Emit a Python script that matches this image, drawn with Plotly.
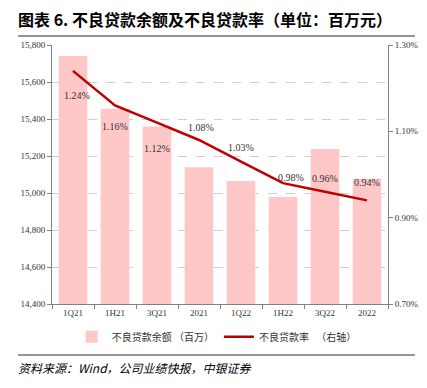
import plotly.graph_objects as go

categories = ["1Q21", "1H21", "3Q21", "2021", "1Q22", "1H22", "3Q22", "2022"]
npl_balance = [15740, 15456, 15360, 15139, 15065, 14978, 15238, 15077]
npl_ratio = [0.0124, 0.0116, 0.0112, 0.0108, 0.0103, 0.0098, 0.0096, 0.0094]
ratio_labels = ["1.24%", "1.16%", "1.12%", "1.08%", "1.03%", "0.98%", "0.96%", "0.94%"]
label_shift = [-25, -21, -26, 12, 14, 6, 13, 18]
label_xshift = [4, 0, 0, 2, 0, 8, 0, 0]

serif = "Liberation Serif, Times New Roman, serif"
cjk = "Noto Sans CJK SC, sans-serif"

fig = go.Figure()
fig.add_trace(go.Bar(
    x=categories, y=npl_balance, name="不良贷款余额 （百万）",
    marker=dict(color="#FFC7C7", line=dict(width=0)), width=0.68,
))
fig.add_trace(go.Scatter(
    x=categories, y=npl_ratio, name="不良贷款率 　（右轴）", yaxis="y2",
    mode="lines", line=dict(color="#C00000", width=2.5),
))
for i, (v, t, s, xs) in enumerate(zip(npl_ratio, ratio_labels, label_shift, label_xshift)):
    fig.add_annotation(
        x=i, y=v, xref="x", yref="y2", text=t, showarrow=False,
        yshift=s, xshift=xs, font=dict(family=serif, size=10, color="#333333"),
    )

fig.update_layout(
    width=427, height=388, autosize=False,
    margin=dict(l=52, r=39, t=45, b=84, autoexpand=False),
    plot_bgcolor="white", paper_bgcolor="white",
    font=dict(family=serif, size=9, color="#333333"),
    xaxis=dict(
        type="category", categoryorder="array", categoryarray=categories,
        range=[-0.5, len(categories) - 0.5],
        showline=True, linecolor="#808080", linewidth=1, automargin=False,
        ticks="outside", tickson="boundaries", ticklen=4, tickcolor="#808080",
        tickfont=dict(family=serif, size=9, color="#333333"),
        showgrid=False,
    ),
    yaxis=dict(
        range=[14400, 15800], dtick=200, tickformat=",", automargin=False,
        showline=True, linecolor="#808080", linewidth=1,
        ticks="outside", ticklen=4, tickcolor="#808080",
        showgrid=True, gridcolor="#D0D0D0", griddash="dash", gridwidth=1,
        zeroline=False,
        tickfont=dict(family=serif, size=9, color="#333333"),
    ),
    yaxis2=dict(
        range=[0.007, 0.013], tick0=0.007, dtick=0.002, tickformat=".2%",
        overlaying="y", side="right", automargin=False,
        showline=True, linecolor="#808080", linewidth=1,
        ticks="outside", ticklen=4, tickcolor="#808080",
        showgrid=False, zeroline=False,
        tickfont=dict(family=serif, size=9, color="#333333"),
    ),
    legend=dict(
        orientation="h", x=0.49, xanchor="center", y=-0.07, yanchor="top",
        font=dict(family=cjk, size=10, color="#333333"),
    ),
    showlegend=True,
)

fig.add_annotation(
    text="<b>图表 6. 不良贷款余额及不良贷款率（单位：百万元）</b>",
    xref="paper", yref="paper", x=-0.107, y=1.045, xanchor="left", yanchor="bottom",
    showarrow=False, font=dict(family=cjk, size=16, color="#000000"),
)
fig.add_annotation(
    text="<i>资料来源：Wind，公司业绩快报，中银证券</i>",
    xref="paper", yref="paper", x=-0.107, y=-0.205, xanchor="left", yanchor="top",
    showarrow=False, font=dict(family=cjk, size=12, color="#000000"),
)
fig.add_shape(type="line", xref="paper", yref="paper", x0=-0.101, x1=1.08, y0=1.035, y1=1.035,
              line=dict(color="#707070", width=1.5))
fig.add_shape(type="line", xref="paper", yref="paper", x0=-0.101, x1=1.08, y0=-0.197, y1=-0.197,
              line=dict(color="#707070", width=1.5))

fig.write_html("out.html", config={"displayModeBar": False},
               post_script="document.body.style.margin='0px';")
